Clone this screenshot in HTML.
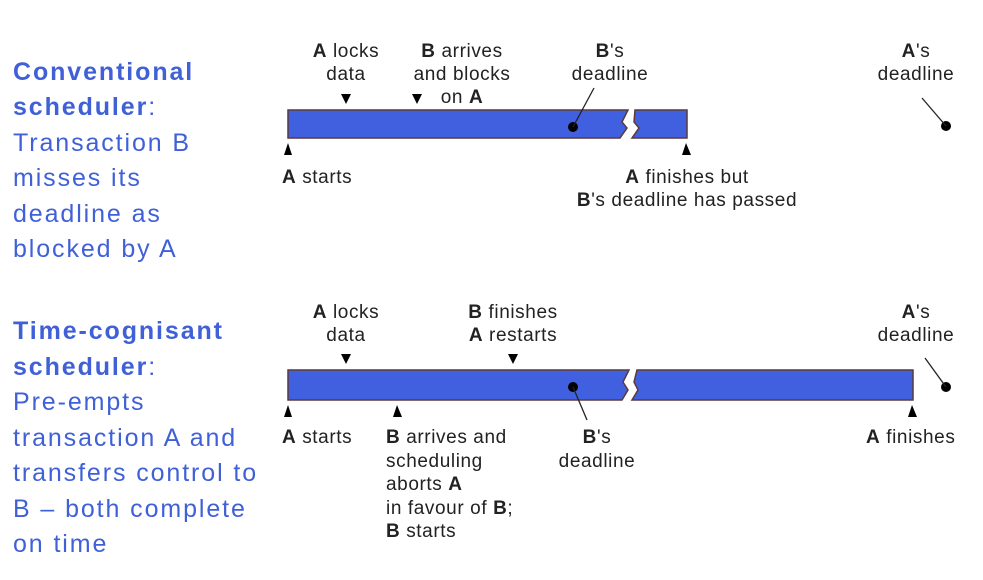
<!DOCTYPE html>
<html><head><meta charset="utf-8"><style>
body{margin:0;background:#fff;width:983px;height:580px;overflow:hidden}
svg{position:absolute;left:0;top:0}
.t{font-family:"Liberation Sans",sans-serif;font-size:19px;letter-spacing:0.6px;fill:#222}
.b{font-weight:bold}
.l{font-family:"Liberation Sans",sans-serif;font-size:25px;letter-spacing:1.9px;fill:#4060d8}
</style></head><body>
<svg width="983" height="580">
<g class="l">
<text x="13" y="80" font-weight="bold">Conventional</text>
<text x="13" y="115"><tspan font-weight="bold">scheduler</tspan>:</text>
<text x="13" y="151">Transaction B</text>
<text x="13" y="186">misses its</text>
<text x="13" y="222">deadline as</text>
<text x="13" y="257">blocked by A</text>
<text x="13" y="339" font-weight="bold">Time-cognisant</text>
<text x="13" y="375"><tspan font-weight="bold">scheduler</tspan>:</text>
<text x="13" y="410">Pre-empts</text>
<text x="13" y="446">transaction A and</text>
<text x="13" y="481">transfers control to</text>
<text x="13" y="517">B – both complete</text>
<text x="13" y="552">on time</text>
</g>
<g fill="#4060e0" stroke="#5a3a3a" stroke-width="1.5">
<polygon points="288,110 628,110 622,122 627,128 620,138 288,138"/>
<polygon points="635,110 687,110 687,138 632,138 639,128 634,122"/>
<polygon points="288,370 629,370 623,382 628,390 622,400 288,400"/>
<polygon points="637,370 913,370 913,400 632,400 638,390 634,382"/>
</g>
<g fill="#000">
<circle cx="573" cy="127" r="5"/><circle cx="946" cy="126" r="5"/>
<circle cx="573" cy="387" r="5"/><circle cx="946" cy="387" r="5"/>
<polygon points="341,94 351,94 346,104"/><polygon points="412,94 422,94 417,104"/>
<polygon points="284,155 292,155 288,143"/><polygon points="682,155 691,155 686,143"/>
<polygon points="341,354 351,354 346,364"/><polygon points="508,354 518,354 513,364"/>
<polygon points="284,417 292,417 288,405"/><polygon points="393,417 402,417 397,405"/><polygon points="908,417 917,417 912,405"/>
</g>
<g stroke="#222" stroke-width="1.3">
<line x1="573" y1="127" x2="594" y2="88"/><line x1="946" y1="126" x2="922" y2="98"/>
<line x1="573" y1="387" x2="587" y2="420"/><line x1="946" y1="387" x2="925" y2="358"/>
</g>
<g class="t" text-anchor="middle">
<text x="346" y="57"><tspan class="b">A</tspan> locks</text><text x="346" y="80">data</text>
<text x="462" y="57"><tspan class="b">B</tspan> arrives</text><text x="462" y="80">and blocks</text><text x="462" y="103">on <tspan class="b">A</tspan></text>
<text x="610" y="57"><tspan class="b">B</tspan>'s</text><text x="610" y="80">deadline</text>
<text x="916" y="57"><tspan class="b">A</tspan>'s</text><text x="916" y="80">deadline</text>
<text x="687" y="183"><tspan class="b">A</tspan> finishes but</text>
<text x="687" y="206"><tspan class="b">B</tspan>'s deadline has passed</text>
<text x="346" y="318"><tspan class="b">A</tspan> locks</text><text x="346" y="341">data</text>
<text x="513" y="318"><tspan class="b">B</tspan> finishes</text><text x="513" y="341"><tspan class="b">A</tspan> restarts</text>
<text x="916" y="318"><tspan class="b">A</tspan>'s</text><text x="916" y="341">deadline</text>
<text x="597" y="443"><tspan class="b">B</tspan>'s</text><text x="597" y="467">deadline</text>
</g>
<g class="t">
<text x="282" y="183"><tspan class="b">A</tspan> starts</text>
<text x="282" y="443"><tspan class="b">A</tspan> starts</text>
<text x="866" y="443"><tspan class="b">A</tspan> finishes</text>
<text x="386" y="443"><tspan class="b">B</tspan> arrives and</text>
<text x="386" y="467">scheduling</text>
<text x="386" y="490">aborts <tspan class="b">A</tspan></text>
<text x="386" y="514">in favour of <tspan class="b">B</tspan>;</text>
<text x="386" y="537"><tspan class="b">B</tspan> starts</text>
</g>
</svg>
</body></html>
